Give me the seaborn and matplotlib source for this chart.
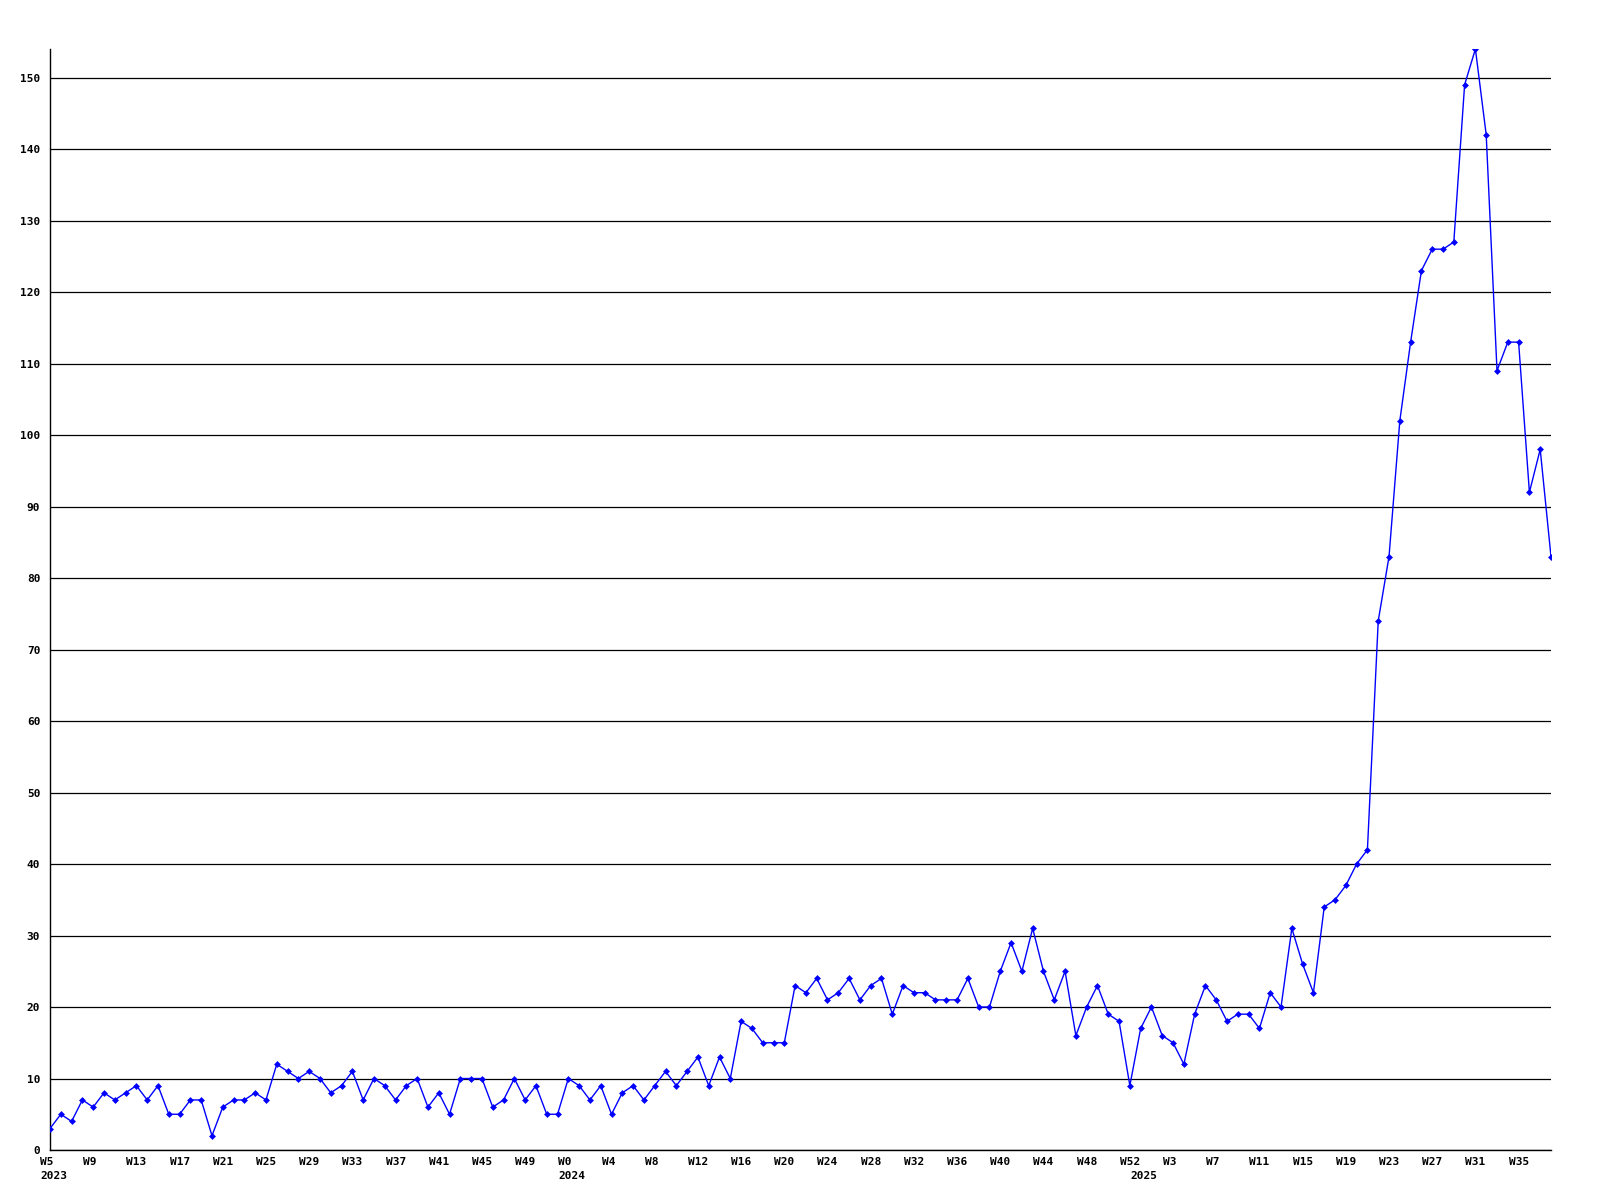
#%% imports
import pandas as pd
import matplotlib.pyplot as plt
from matplotlib.transforms import ScaledTranslation, blended_transform_factory
import seaborn as sns

#%% data (weekly counts)
weeks_2023 = list(range(5, 53))
weeks_2024 = list(range(0, 53))
weeks_2025 = list(range(0, 39))

counts_2023 = [3, 5, 4, 7, 6, 8, 7, 8, 9, 7,
               9, 5, 5, 7, 7, 2, 6, 7, 7, 8,
               7, 12, 11, 10, 11, 10, 8, 9, 11, 7,
               10, 9, 7, 9, 10, 6, 8, 5, 10, 10,
               10, 6, 7, 10, 7, 9, 5, 5]
counts_2024 = [10, 9, 7, 9, 5, 8, 9, 7, 9, 11,
               9, 11, 13, 9, 13, 10, 18, 17, 15, 15,
               15, 23, 22, 24, 21, 22, 24, 21, 23, 24,
               19, 23, 22, 22, 21, 21, 21, 24, 20, 20,
               25, 29, 25, 31, 25, 21, 25, 16, 20, 23,
               19, 18, 9]
counts_2025 = [17, 20, 16, 15, 12, 19, 23, 21, 18, 19,
               19, 17, 22, 20, 31, 26, 22, 34, 35, 37,
               40, 42, 74, 83, 102, 113, 123, 126, 126, 127,
               149, 154, 142, 109, 113, 113, 92, 98, 83]

years = ['2023', '2024', '2025']
yticks = list(range(0, 160, 10))

#%% organize
df = pd.DataFrame({
    'year': [years[0]] * len(weeks_2023) + [years[1]] * len(weeks_2024) + [years[2]] * len(weeks_2025),
    'week': weeks_2023 + weeks_2024 + weeks_2025,
    'count': counts_2023 + counts_2024 + counts_2025,
})
df['pos'] = range(len(df))

#%% plot
sns.set_style("white")
plt.rcParams['font.family'] = ['DejaVu Sans Mono']
plt.rcParams['font.weight'] = 'bold'
plt.rcParams['text.color'] = 'black'
plt.rcParams['xtick.color'] = 'black'
plt.rcParams['ytick.color'] = 'black'

fig = plt.figure(figsize=(16, 12), dpi=100)
ax = fig.add_axes([50/1600, 1 - 1150/1200, (1551 - 50)/1600, (1150 - 49)/1200])

sns.lineplot(data=df, x='pos', y='count', ax=ax, color='#0000ff', lw=1,
             marker='D', markersize=3.5, markeredgewidth=0, zorder=3)

ax.set_xlim(0, len(df) - 1)
ax.set_ylim(0, 154)
ax.set_xlabel('')
ax.set_ylabel('')

ax.set_yticks(yticks)
ax.set_yticklabels([str(v) for v in yticks], fontsize=8, fontweight='bold', color='black')
ax.yaxis.grid(True, color='black', lw=0.9)
ax.xaxis.grid(False)

for s in ['top', 'right']:
    ax.spines[s].set_visible(False)
for s in ['left', 'bottom']:
    ax.spines[s].set_color('black')
    ax.spines[s].set_linewidth(1)

tick_df = df.iloc[::4]
ax.set_xticks(tick_df.pos)
ax.set_xticklabels(['W%d' % w for w in tick_df.week], fontsize=8, fontweight='bold', color='black')
ax.tick_params(axis='both', length=0)
ax.tick_params(axis='y', pad=7)
ax.tick_params(axis='x', pad=5)

shift = ScaledTranslation(-10/100, 0, fig.dpi_scale_trans)
for lbl in ax.get_xticklabels():
    lbl.set_ha('left')
    lbl.set_transform(lbl.get_transform() + shift)

# year labels under the first week of each year
trans = blended_transform_factory(ax.transData, ax.transAxes) + ScaledTranslation(-10/100, -21/100, fig.dpi_scale_trans)
for yr in years:
    first = df[df.year == yr].pos.iloc[0]
    ax.text(first, 0, yr, transform=trans, ha='left', va='top', fontsize=8,
            fontweight='bold', color='black')

fig.savefig('out.png', dpi=100, facecolor='white')
